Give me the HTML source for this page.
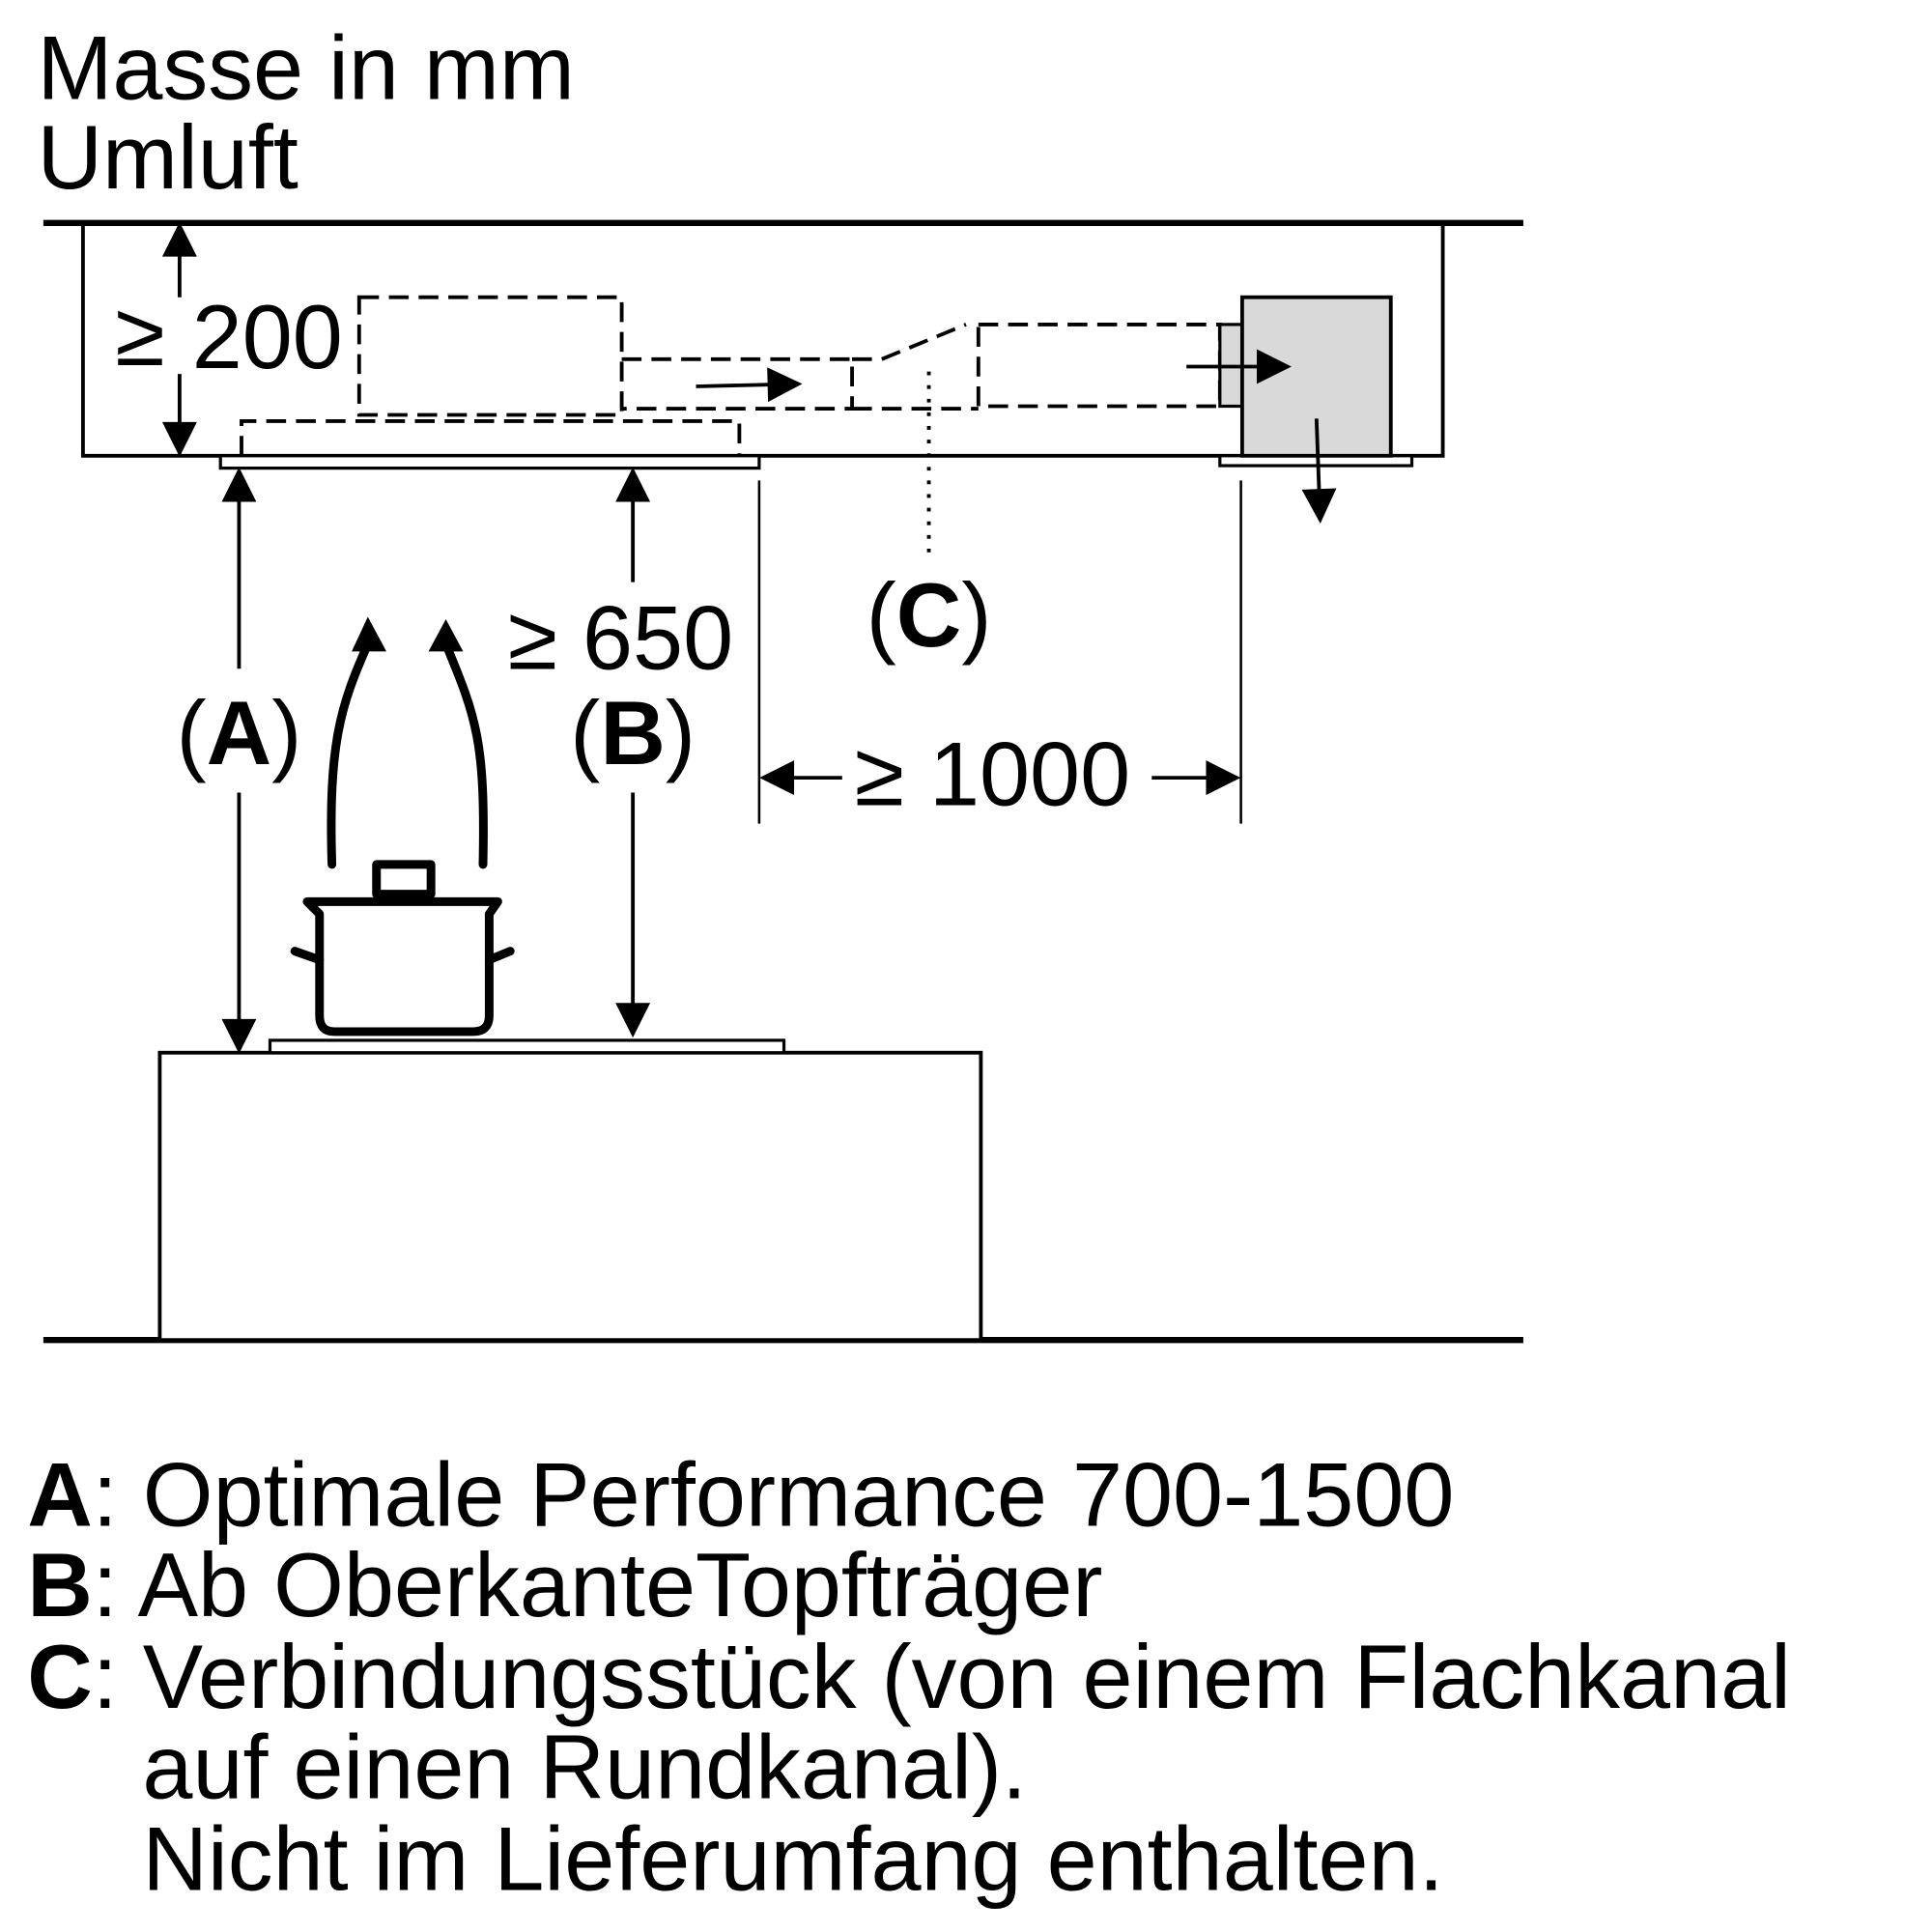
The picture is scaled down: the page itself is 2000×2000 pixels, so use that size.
<!DOCTYPE html>
<html><head><meta charset="utf-8"><style>
html,body{margin:0;padding:0;background:#fff}
svg{display:block}
text{font-family:"Liberation Sans",sans-serif;fill:#000}
</style></head><body>
<svg width="2000" height="2000" viewBox="0 0 1560 1560" xmlns="http://www.w3.org/2000/svg">
<defs>
<marker id="ab" viewBox="0 0 10 10" refX="9" refY="5" markerWidth="36" markerHeight="28" orient="auto-start-reverse" markerUnits="userSpaceOnUse"><path d="M0,0 L10,5 L0,10 z"/></marker>
</defs>
<text x="30" y="80" font-size="73">Masse in mm</text>
<text x="30" y="152" font-size="73">Umluft</text>

<g stroke="#000" fill="none">
<line x1="35" y1="180" x2="1230" y2="180" stroke-width="5"/>
<line x1="35" y1="1082" x2="1230" y2="1082" stroke-width="5"/>
<polyline points="67,180 67,368 1165,368 1165,180" stroke-width="3"/>
<rect x="178" y="368" width="435" height="10" stroke-width="2.5" fill="#fff"/>
<rect x="985" y="368" width="155" height="8" stroke-width="2.5" fill="#fff"/>
<g stroke-dasharray="16,8" stroke-width="3">
<rect x="290" y="240" width="212" height="95"/>
<polyline points="195,368 195,340 597,340 597,368"/>
<polyline points="502,290 688,290 688,330 502,330"/>
<line x1="688" y1="290" x2="712" y2="290"/>
<line x1="712" y1="290" x2="780" y2="262"/>
<line x1="688" y1="330" x2="790" y2="330"/>
<rect x="790" y="262" width="195" height="66"/>
</g>
<rect x="985" y="262" width="18" height="66" fill="#d9d9d9" stroke-width="2.5"/>
<rect x="1003" y="240" width="120" height="128" fill="#d9d9d9" stroke-width="3"/>
<line x1="750" y1="300" x2="750" y2="450" stroke-width="3" stroke-dasharray="3,8"/>
<g stroke-width="3">
<line x1="562" y1="312" x2="645" y2="310" marker-end="url(#ab)"/>
<line x1="958" y1="296" x2="1040" y2="296" marker-end="url(#ab)"/>
<line x1="1063" y1="338" x2="1066" y2="420" marker-end="url(#ab)"/>
<line x1="145" y1="240" x2="145" y2="182" marker-end="url(#ab)"/>
<line x1="145" y1="302" x2="145" y2="366" marker-end="url(#ab)"/>
<line x1="193" y1="540" x2="193" y2="380" marker-end="url(#ab)"/>
<line x1="193" y1="640" x2="193" y2="848" marker-end="url(#ab)"/>
<line x1="511" y1="470" x2="511" y2="380" marker-end="url(#ab)"/>
<line x1="511" y1="640" x2="511" y2="835" marker-end="url(#ab)"/>
<line x1="613" y1="388" x2="613" y2="665" stroke-width="2"/>
<line x1="1002" y1="388" x2="1002" y2="665" stroke-width="2"/>
<line x1="680" y1="628" x2="616" y2="628" marker-end="url(#ab)"/>
<line x1="930" y1="628" x2="999" y2="628" marker-end="url(#ab)"/>
</g>
<rect x="129" y="850" width="663" height="232" stroke-width="3" fill="#fff"/>
<rect x="218" y="840" width="415" height="10" stroke-width="2.5" fill="#fff"/>
<g stroke-width="7" stroke-linecap="round" stroke-linejoin="round">
<path d="M268,698 C265,600 275,570 297,520" />
<path d="M390,698 C392,600 385,580 360,520"/>
<path d="M248,728 L402,728 L395,738 L395,820 Q395,833 382,833 L270,833 Q258,833 258,820 L258,738 Z"/>
<rect x="304" y="698" width="44" height="24"/>
<line x1="258" y1="775" x2="238" y2="768"/>
<line x1="395" y1="775" x2="412" y2="768"/>
</g>
</g>
<path d="M284,526 L297,498 L312,526 Z"/>
<path d="M346,526 L360,500 L374,526 Z"/>
<text x="93" y="295" font-size="73">≥</text>
<text x="155" y="297" font-size="73">200</text>
<text x="410" y="540" font-size="73">≥ 650</text>
<text x="193" y="617" font-size="73" text-anchor="middle">(<tspan font-weight="bold">A</tspan>)</text>
<text x="511" y="617" font-size="73" text-anchor="middle">(<tspan font-weight="bold">B</tspan>)</text>
<text x="750" y="522" font-size="73" text-anchor="middle">(<tspan font-weight="bold">C</tspan>)</text>
<text x="690" y="650" font-size="73">≥ 1000</text>
<g font-size="73">
<text x="22" y="1232"><tspan font-weight="bold">A</tspan>: Optimale Performance 700-1500</text>
<text x="22" y="1305"><tspan font-weight="bold">B</tspan>: Ab OberkanteTopfträger</text>
<text x="22" y="1379"><tspan font-weight="bold">C</tspan>: Verbindungsstück (von einem Flachkanal</text>
<text x="115" y="1452">auf einen Rundkanal).</text>
<text x="115" y="1526">Nicht im Lieferumfang enthalten.</text>
</g>
</svg>
</body></html>
